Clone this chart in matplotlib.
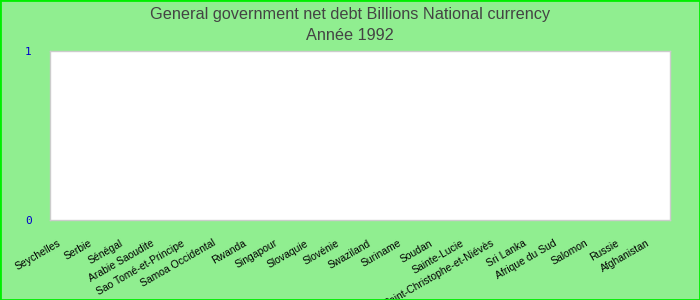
import matplotlib
matplotlib.use("Agg")
import matplotlib.pyplot as plt
from matplotlib.transforms import ScaledTranslation

plt.rcParams['font.family'] = ['Liberation Sans', 'DejaVu Sans']

countries = ['Seychelles', 'Serbie', 'Sénégal', 'Arabie Saoudite', 'Sao Tomé-et-Principe',
             'Samoa Occidental', 'Rwanda', 'Singapour', 'Slovaquie', 'Slovénie',
             'Swaziland', 'Suriname', 'Soudan', 'Sainte-Lucie', 'Saint-Christophe-et-Niévès',
             'Sri Lanka', 'Afrique du Sud', 'Salomon', 'Russie', 'Afghanistan']
debt = [0] * len(countries)  # no values shown for 1992

fig = plt.figure(figsize=(7, 3), dpi=100, facecolor='#90ee90')
ax = fig.add_axes([50/700, 1 - 220/300, 620/700, 169/300])
ax.set_facecolor('white')

x = range(len(countries))
ax.bar(x, debt, width=0.6, color='#4572a7')
ax.set_xlim(-0.5, len(countries) - 0.5)
ax.set_ylim(0, 1)
ax.set_yticks([0, 1])
ax.set_yticklabels(['0', '1'], color='#0000cc', fontsize=8, family='DejaVu Sans Mono')
ax.set_xticks(list(x))
ax.set_xticklabels(countries, rotation=30, ha='right', rotation_mode='anchor', fontsize=7.5)
ax.tick_params(axis='both', length=0)
ax.tick_params(axis='x', pad=13)
ax.tick_params(axis='y', pad=13)
shift = ScaledTranslation(-8/100, 0, fig.dpi_scale_trans)
for lab in ax.get_xticklabels():
    lab.set_transform(lab.get_transform() + shift)
for s in ax.spines.values():
    s.set_color('#cccccc')
    s.set_linewidth(1)

fig.text(0.5, 1 - 14/300, 'General government net debt Billions National currency',
         ha='center', va='center', fontsize=11.7, color='#444444')
fig.text(0.5, 1 - 36/300, 'Année 1992', ha='center', va='center', fontsize=11.7, color='#444444')

border = plt.Rectangle((0, 0), 1, 1, transform=fig.transFigure, fill=False,
                       edgecolor='#00ee00', linewidth=2)
fig.patches.append(border)

fig.savefig('out.png', dpi=100, facecolor=fig.get_facecolor())
